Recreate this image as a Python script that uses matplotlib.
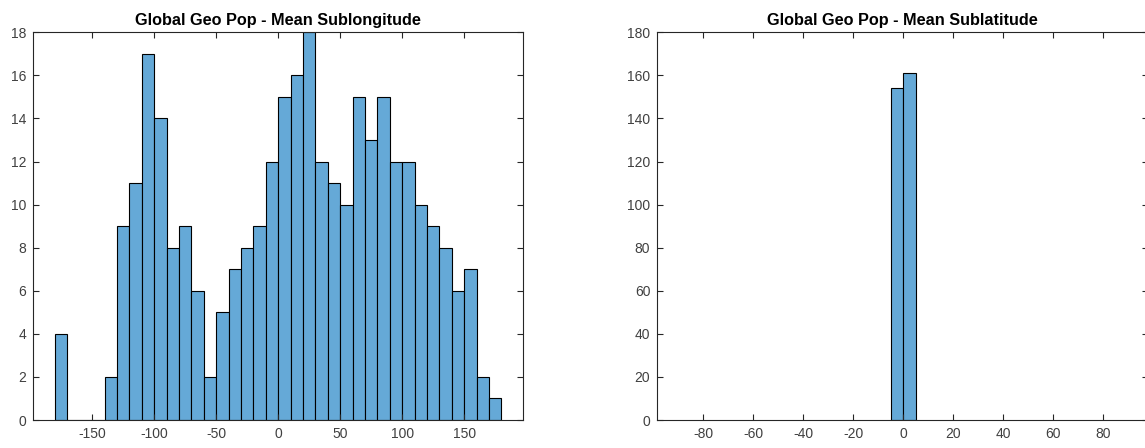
import numpy as np
import matplotlib
matplotlib.use('Agg')
import matplotlib.pyplot as plt

# bin edges and counts
lon_edges = np.arange(-180, 190, 10)
lon_counts = [4, 0, 0, 0, 2, 9, 11, 17, 14, 8, 9, 6, 2, 5, 7, 8, 9, 12,
              15, 16, 18, 12, 11, 10, 15, 13, 15, 12, 12, 10, 9, 8, 6, 7, 2, 1]
lat_edges = [-5, 0, 5]
lat_counts = [154, 161]

lon_ticks = [-150, -100, -50, 0, 50, 100, 150]
lat_ticks = [-80, -60, -40, -20, 0, 20, 40, 60, 80]

face = '#65A9D7'
axcol = '#262626'

plt.rcParams['font.family'] = ['Liberation Sans', 'DejaVu Sans']
plt.rcParams['font.size'] = 10
plt.rcParams['axes.unicode_minus'] = False

fig = plt.figure(figsize=(11.45, 4.48), dpi=100)
ax1 = fig.add_axes([33 / 1145, 28 / 448, 490.3 / 1145, 387.7 / 448])
ax2 = fig.add_axes([657.3 / 1145, 28 / 448, 490.3 / 1145, 387.7 / 448])


def style(ax):
    for s in ax.spines.values():
        s.set_color(axcol)
        s.set_linewidth(0.8)
    ax.tick_params(direction='in', top=True, right=True, length=4,
                   width=0.8, colors=axcol, labelcolor='#404040', pad=5)


ax1.bar(lon_edges[:-1], lon_counts, width=10, align='edge', color=face,
        edgecolor='black', linewidth=0.8)
ax1.set_xlim(-197.8, 197.6)
ax1.set_ylim(0, 18)
ax1.set_yticks(range(0, 19, 2))
ax1.set_xticks(lon_ticks)
ax1.set_title('Global Geo Pop - Mean Sublongitude', fontsize=11.7,
              fontweight='bold', pad=5)
style(ax1)

ax2.bar(lat_edges[:-1], lat_counts, width=5, align='edge', color=face,
        edgecolor='black', linewidth=0.8)
ax2.set_xlim(-98.4, 97.7)
ax2.set_ylim(0, 180)
ax2.set_yticks(range(0, 181, 20))
ax2.set_xticks(lat_ticks)
ax2.set_title('Global Geo Pop - Mean Sublatitude', fontsize=11.7,
              fontweight='bold', pad=5)
style(ax2)

fig.savefig('out.png', dpi=100)
